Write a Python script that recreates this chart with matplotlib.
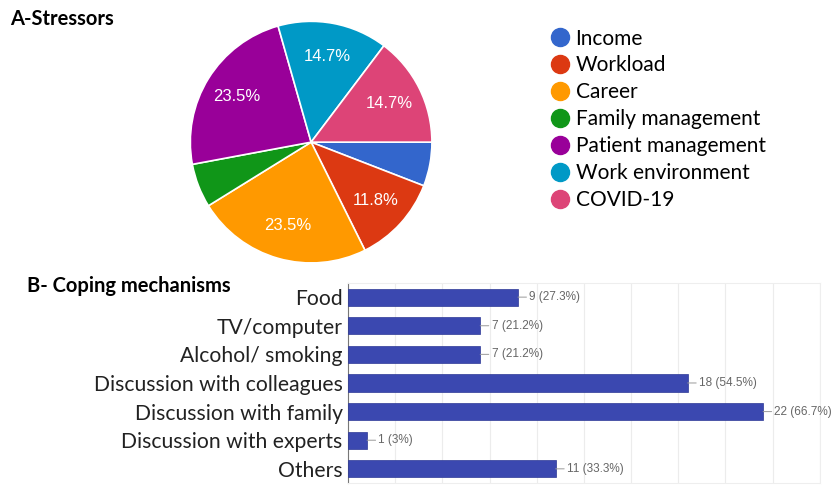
import matplotlib.pyplot as plt
from matplotlib.lines import Line2D

# Datos de estresores (grafico de pastel)
estresores = ["Income", "Workload", "Career", "Family management",
              "Patient management", "Work environment", "COVID-19"]
conteo_estres = [2, 4, 8, 2, 8, 5, 5]
colores_pie = ["#3366cc", "#dc3912", "#ff9900", "#109618",
               "#990099", "#0099c6", "#dd4477"]

# Datos de mecanismos de afrontamiento (barras)
mecanismos = ["Food", "TV/computer", "Alcohol/ smoking",
              "Discussion with colleagues", "Discussion with family",
              "Discussion with experts", "Others"]
conteo_mec = [9, 7, 7, 18, 22, 1, 11]
porcentajes = ["27.3%", "21.2%", "21.2%", "54.5%", "66.7%", "3%", "33.3%"]

fuente = ["Lato", "DejaVu Sans"]

fig = plt.figure(figsize=(8.33, 4.91), dpi=100)

# --- A: pastel ---
ax1 = fig.add_axes([0.227, 0.462, 0.293, 0.497])


def etiqueta(p):
    return f"{p:.1f}%" if p > 8 else ""


wedges, _, autotexts = ax1.pie(conteo_estres, colors=colores_pie, startangle=0,
                               counterclock=False, autopct=etiqueta, pctdistance=0.72,
                               wedgeprops=dict(edgecolor="white", linewidth=1.2))
for t in autotexts:
    t.set_color("white")
    t.set_fontsize(12)
    t.set_family("Liberation Sans")
ax1.set_aspect("equal")
ax1.set_xlim(-1.01, 1.01)
ax1.set_ylim(-1.01, 1.01)

handles = [Line2D([0], [0], marker="o", color="none", markerfacecolor=c,
                  markeredgecolor=c, markersize=13) for c in colores_pie]
fig.legend(handles, estresores, loc="upper left", bbox_to_anchor=(0.636, 0.98),
           frameon=False, prop={"family": fuente, "size": 15},
           handletextpad=0.2, labelspacing=0.33, handlelength=1.1)

fig.text(0.012, 0.962, "A-Stressors", fontsize=14.5, fontweight="bold",
         family=fuente, va="center")

# --- B: barras ---
ax2 = fig.add_axes([0.418, 0.016, 0.566, 0.408])
y = list(range(len(mecanismos)))
ax2.barh(y, conteo_mec, height=0.6, color="#3b48b0", edgecolor="#2c3895",
         linewidth=0.5, zorder=3)
for yi, v, p in zip(y, conteo_mec, porcentajes):
    ax2.annotate(f"{v} ({p})", xy=(v, yi), xytext=(v + 0.6, yi),
                 va="center", ha="left", fontsize=8.5, color="#666666",
                 family="Liberation Sans",
                 arrowprops=dict(arrowstyle="-", color="#999999", lw=0.7,
                                 shrinkA=0, shrinkB=0))
ax2.set_xlim(0, 25)
ax2.set_ylim(6.5, -0.5)
ax2.set_xticks([i * 2.5 for i in range(11)])
ax2.set_xticklabels([])
ax2.tick_params(axis="x", length=0)
ax2.tick_params(axis="y", length=0, pad=4)
ax2.set_yticks(y)
ax2.set_yticklabels(mecanismos, fontsize=15.2, family=fuente, color="#222222")
ax2.grid(axis="x", color="#ececec", lw=0.8, zorder=0)
for lado in ["top", "right", "bottom"]:
    ax2.spines[lado].set_color("#eeeeee")
ax2.spines["left"].set_color("#777777")

fig.text(0.033, 0.418, "B- Coping mechanisms", fontsize=14.5, fontweight="bold",
         family=fuente, va="center")

plt.savefig("out.png", dpi=100)
